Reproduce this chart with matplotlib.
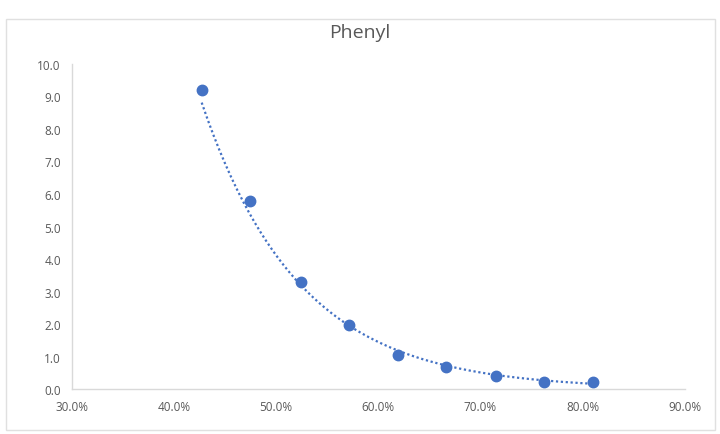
import numpy as np
from matplotlib import pyplot as plt
from matplotlib.ticker import FuncFormatter

# data
conc = [42.7, 47.4, 52.4, 57.1, 61.9, 66.6, 71.5, 76.2, 81.0]   # x, percent
vals = [9.2, 5.78, 3.29, 1.97, 1.05, 0.68, 0.40, 0.22, 0.22]
x_ticks = [30, 40, 50, 60, 70, 80, 90]
y_ticks = [0, 1, 2, 3, 4, 5, 6, 7, 8, 9, 10]

blue = '#4472C4'
grey = '#595959'
plt.rcParams['font.family'] = ['Open Sans', 'DejaVu Sans']

fig = plt.figure(figsize=(7.2, 4.35), dpi=100)
ax = fig.add_axes([0.1, 0.1034, 0.851, 0.7472])

ax.plot(conc, vals, 'o', color=blue, markersize=7.5, zorder=3)

# exponential trendline (like Excel), fitted on the points
x = np.array(conc)
k, b = np.polyfit(x, np.log(vals), 1)
xt = np.linspace(x.min(), x.max(), 200)
ax.plot(xt, np.exp(b + k * xt), linestyle=(0, (1, 1.2)), color=blue, linewidth=1.6, zorder=2)

ax.set_xlim(30, 90)
ax.set_ylim(0, 10)
ax.set_xticks(x_ticks)
ax.set_yticks(y_ticks)
ax.xaxis.set_major_formatter(FuncFormatter(lambda v, p: f"{v:.1f}%"))
ax.yaxis.set_major_formatter(FuncFormatter(lambda v, p: f"{v:.1f}"))
ax.tick_params(length=0, labelsize=8.5, colors=grey, pad=8)

for s in ['top', 'right']:
    ax.spines[s].set_visible(False)
for s in ['left', 'bottom']:
    ax.spines[s].set_color('#D9D9D9')
    ax.spines[s].set_linewidth(1.0)

fig.text(0.5, 0.925, 'Phenyl', ha='center', va='center', fontsize=14, color=grey)

# chart area border
fig.patches.append(plt.Rectangle((0.008, 0.01), 0.985, 0.945, transform=fig.transFigure,
                                 fill=False, edgecolor='#E0E0E0', linewidth=1))

fig.savefig('out.png', dpi=100)
